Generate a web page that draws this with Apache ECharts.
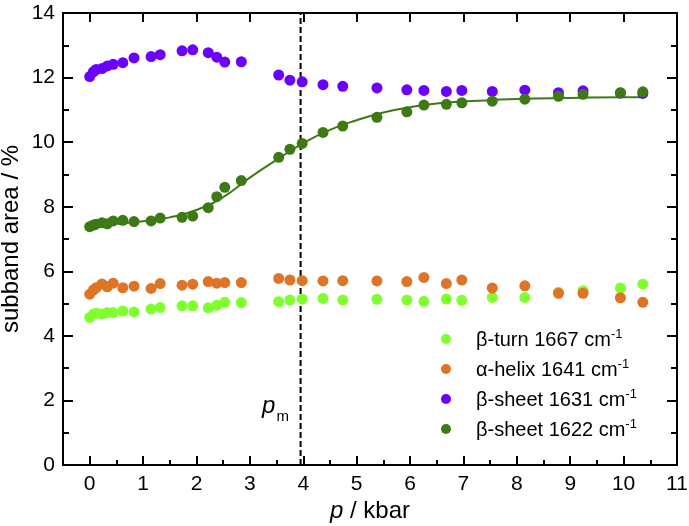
<!DOCTYPE html>
<html>
<head>
<meta charset="utf-8">
<script src="https://cdn.jsdelivr.net/npm/echarts@6/dist/echarts.min.js"></script>
<style>html,body{margin:0;padding:0;background:#fff;}#c{width:689px;height:526px;}</style>
</head>
<body>
<div id="c"></div>
<script>
// ---- data ----
const pressure = [0, 0.07, 0.12, 0.23, 0.33, 0.44, 0.62, 0.83, 1.15, 1.32, 1.73, 1.93, 2.22, 2.38, 2.53, 2.84, 3.54, 3.75, 3.98, 4.37, 4.74, 5.38, 5.94, 6.26, 6.68, 6.97, 7.54, 8.15, 8.78, 9.24, 9.94, 10.36];
const betaTurn1667 = [4.57,4.67,4.70,4.68,4.72,4.72,4.77,4.74,4.83,4.88,4.93,4.93,4.87,4.95,5.04,5.03,5.06,5.11,5.14,5.16,5.11,5.13,5.11,5.07,5.14,5.10,5.19,5.19,5.35,5.40,5.48,5.60];
const alphaHelix1641 = [5.29,5.42,5.49,5.61,5.52,5.63,5.49,5.54,5.47,5.62,5.57,5.60,5.68,5.63,5.65,5.65,5.78,5.73,5.71,5.70,5.71,5.70,5.68,5.81,5.62,5.73,5.48,5.55,5.32,5.32,5.18,5.04];
const betaSheet1631 = [12.03,12.18,12.25,12.28,12.36,12.41,12.46,12.61,12.65,12.71,12.83,12.86,12.77,12.63,12.48,12.49,12.08,11.92,11.87,11.78,11.73,11.68,11.62,11.60,11.57,11.60,11.57,11.61,11.53,11.59,11.52,11.51];
const betaSheet1622 = [7.38,7.43,7.46,7.50,7.47,7.56,7.58,7.54,7.56,7.65,7.67,7.71,7.97,8.31,8.60,8.81,9.53,9.78,9.96,10.30,10.50,10.77,10.94,11.15,11.17,11.22,11.27,11.33,11.42,11.48,11.53,11.56];
// fitted curve
const fitP = [0, 0.5, 1, 1.5, 2, 2.5, 3, 3.5, 4, 4.5, 5, 5.5, 6, 6.5, 7, 7.5, 8, 9, 10, 10.36];
const fitV = [7.42, 7.47, 7.55, 7.67, 7.9, 8.3, 8.9, 9.45, 9.97, 10.38, 10.68, 10.92, 11.08, 11.2, 11.26, 11.3, 11.34, 11.37, 11.39, 11.39];
// transition pressure p_m
const pm = 3.95;
const pmLabelPos = [3.48, 1.85];
const xMajorTicks = [0,1,2,3,4,5,6,7,8,9,10,11];
const xMinorTicks = [0.5,1.5,2.5,3.5,4.5,5.5,6.5,7.5,8.5,9.5,10.5];
const seriesNames = ['β-turn 1667 cm', 'α-helix 1641 cm', 'β-sheet 1631 cm', 'β-sheet 1622 cm'];
const seriesColors = ['#80ff2e', '#de7526', '#6a00ff', '#3d7a16'];

const pairs = (xs, ys) => xs.map((x, i) => [x, ys[i]]);
const FONT = 'Liberation Sans, Arial, sans-serif';

const chart = echarts.init(document.getElementById('c'), null, {renderer: 'canvas'});

const xRange = {min: -0.5, max: 11};
const axisLineStyle = {color: '#000', width: 2};

const scatterSeries = [betaTurn1667, alphaHelix1641, betaSheet1631, betaSheet1622].map((vals, i) => ({
  name: seriesNames[i],
  type: 'scatter',
  data: pairs(pressure, vals),
  symbol: 'circle',
  symbolSize: 11,
  itemStyle: {color: seriesColors[i], opacity: 1},
  z: 3 + i,
  animation: false
}));

const option = {
  animation: false,
  backgroundColor: '#fff',
  grid: {left: 63, right: 12, top: 13, bottom: 61, containLabel: false, outerBoundsMode: 'none'},
  legend: {
    orient: 'vertical',
    left: 436,
    top: 323,
    itemWidth: 10,
    itemHeight: 10,
    itemGap: 8,
    icon: 'circle',
    data: seriesNames,
    formatter: name => '{t|' + name + '}{s|-1}',
    textStyle: {
      fontFamily: FONT,
      fontSize: 20,
      color: '#000',
      padding: [0, 0, 0, 20],
      rich: {
        t: {fontFamily: FONT, fontSize: 20, color: '#000', lineHeight: 22, verticalAlign: 'bottom'},
        s: {fontFamily: FONT, fontSize: 13, color: '#000', lineHeight: 22, verticalAlign: 'top', padding: [0,0,8,0]}
      }
    }
  },
  xAxis: [
    {
      type: 'value', position: 'bottom', ...xRange,
      axisLine: {show: true, onZero: false, lineStyle: axisLineStyle},
      axisTick: {show: true, inside: true, length: 9, lineStyle: {color: '#000', width: 2}, customValues: xMajorTicks},
      axisLabel: {show: true, customValues: xMajorTicks, fontFamily: FONT, fontSize: 21, color: '#000', margin: 9},
      splitLine: {show: false},
      name: '{i|p} / kbar',
      nameLocation: 'middle',
      nameGap: 34,
      nameMoveOverlap: false,
      nameTextStyle: {fontFamily: FONT, fontSize: 24, color: '#000',
        rich: {i: {fontFamily: FONT, fontSize: 24, fontStyle: 'italic', color: '#000'}}}
    },
    {
      type: 'value', position: 'bottom', ...xRange,
      axisLine: {show: false, onZero: false},
      axisTick: {show: true, inside: true, length: 5, lineStyle: {color: '#000', width: 2}, customValues: xMinorTicks},
      axisLabel: {show: false},
      splitLine: {show: false}
    },
    {
      type: 'value', position: 'top', ...xRange,
      axisLine: {show: true, onZero: false, lineStyle: axisLineStyle},
      axisTick: {show: true, inside: true, length: 9, lineStyle: {color: '#000', width: 2}, customValues: xMajorTicks},
      axisLabel: {show: false},
      splitLine: {show: false}
    }
  ],
  yAxis: [
    {
      type: 'value', position: 'left', min: 0, max: 14, interval: 2,
      axisLine: {show: true, onZero: false, lineStyle: axisLineStyle},
      axisTick: {show: true, inside: true, length: 10, lineStyle: {color: '#000', width: 2}},
      minorTick: {show: true, splitNumber: 2, length: 6, lineStyle: {color: '#000', width: 2}},
      axisLabel: {fontFamily: FONT, fontSize: 21, color: '#000', margin: 8},
      splitLine: {show: false},
      minorSplitLine: {show: false},
      name: 'subband area / %',
      nameLocation: 'middle',
      nameGap: 40,
      nameMoveOverlap: false,
      nameRotate: 90,
      nameTextStyle: {fontFamily: FONT, fontSize: 24, color: '#000'}
    },
    {
      type: 'value', position: 'right', min: 0, max: 14, interval: 2,
      axisLine: {show: true, onZero: false, lineStyle: axisLineStyle},
      axisTick: {show: true, inside: true, length: 10, lineStyle: {color: '#000', width: 2}},
      minorTick: {show: true, splitNumber: 2, length: 6, lineStyle: {color: '#000', width: 2}},
      axisLabel: {show: false},
      splitLine: {show: false},
      minorSplitLine: {show: false}
    }
  ],
  series: [
    {
      name: 'pm',
      type: 'line',
      data: [[pm, 0], [pm, 14]],
      symbol: 'none',
      lineStyle: {color: '#000', width: 2, type: [6, 3]},
      z: 1,
      silent: true,
      markPoint: {
        symbol: 'circle', symbolSize: 0,
        data: [{coord: pmLabelPos, value: ''}],
        label: {
          show: true, position: 'inside',
          formatter: '{p|p}{m|m}',
          rich: {
            p: {fontFamily: FONT, fontSize: 24, fontStyle: 'italic', color: '#000', verticalAlign: 'bottom', lineHeight: 26},
            m: {fontFamily: FONT, fontSize: 15, color: '#000', verticalAlign: 'bottom', lineHeight: 26, padding: [0,0,-6,1]}
          }
        }
      }
    },
    {
      name: 'fit',
      type: 'line',
      data: pairs(fitP, fitV),
      smooth: true,
      symbol: 'none',
      lineStyle: {color: '#3d7a16', width: 2},
      z: 2,
      silent: true
    },
    ...scatterSeries
  ]
};
chart.setOption(option);
</script>
</body>
</html>
